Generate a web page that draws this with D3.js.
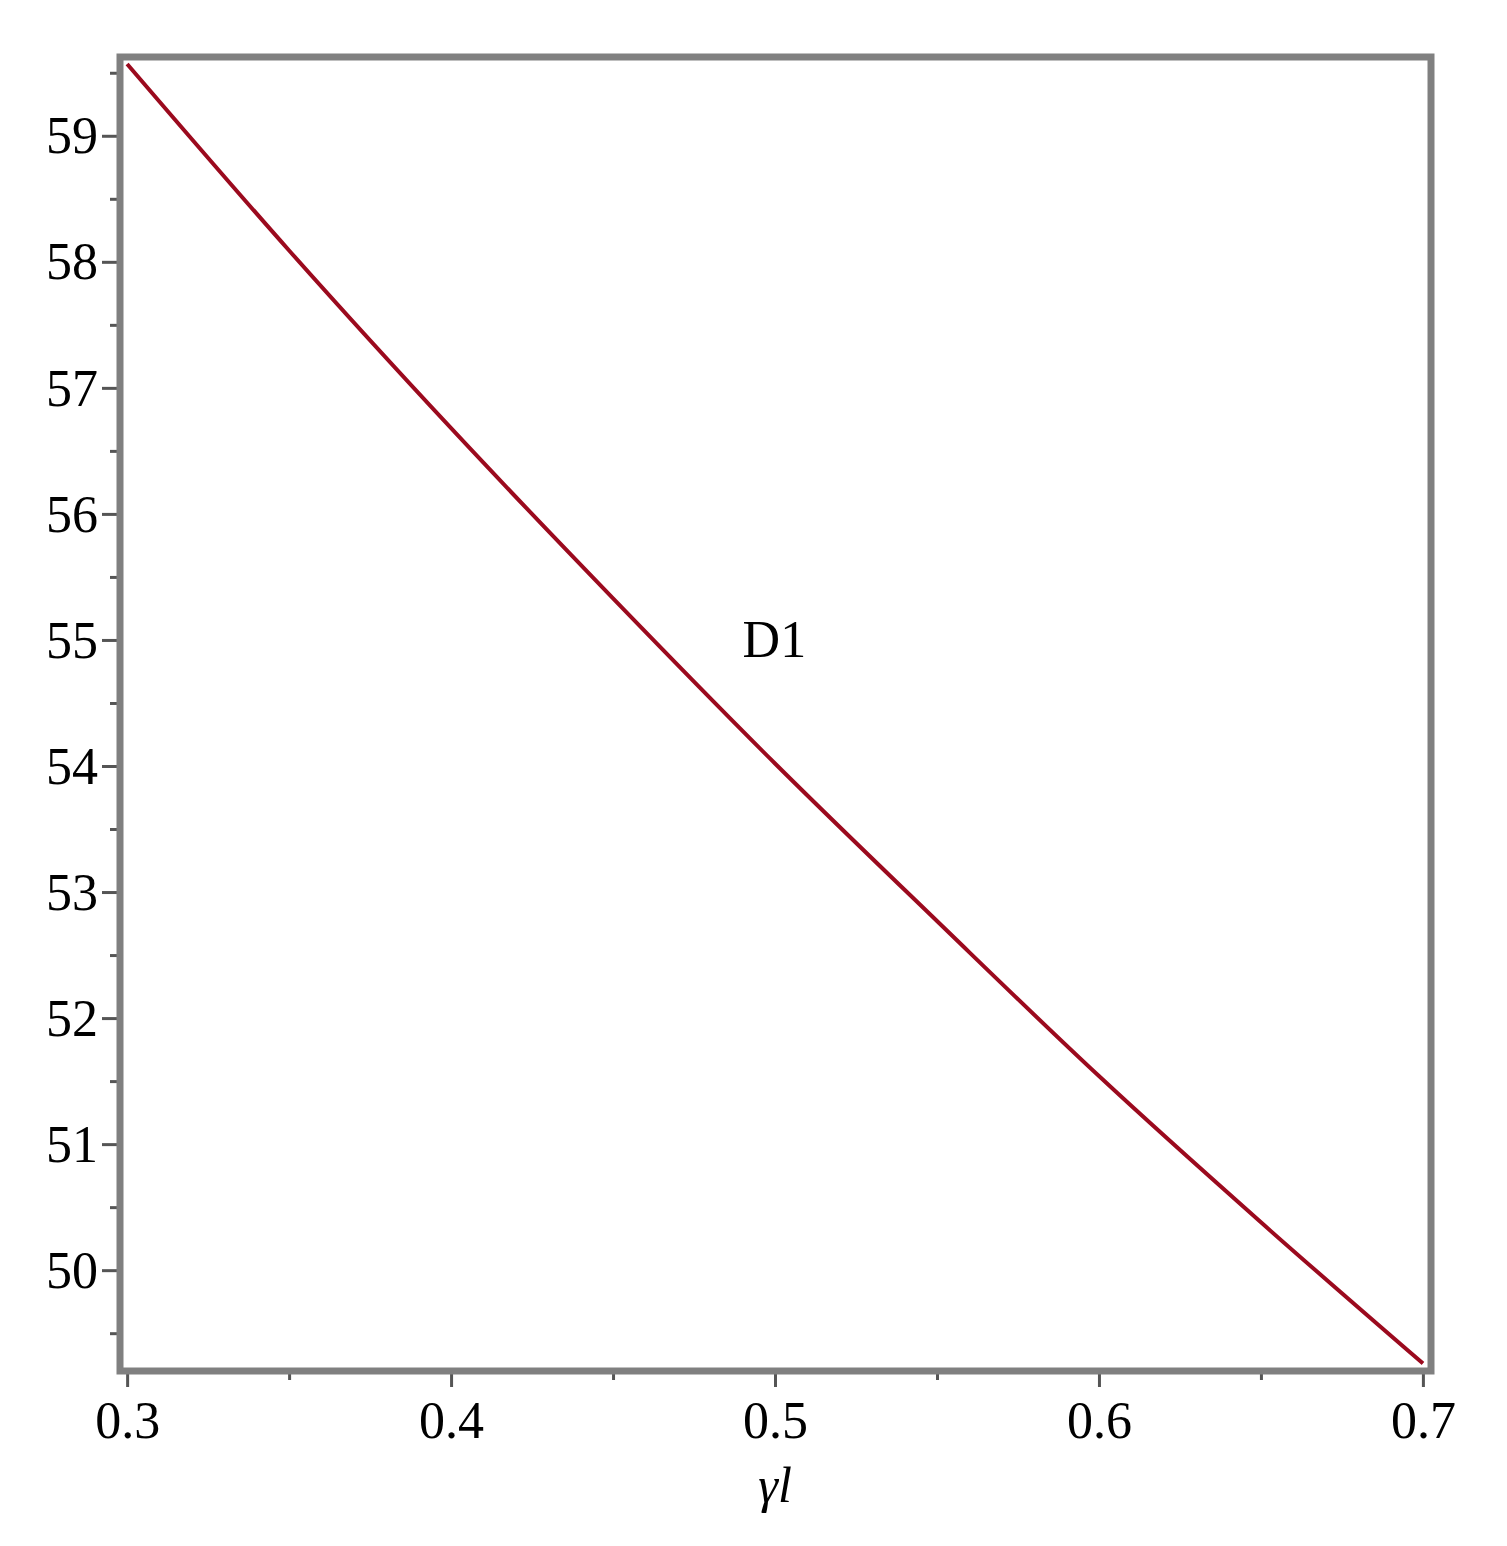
<!DOCTYPE html>
<html lang="en">
<head>
    <meta charset="UTF-8">
    <title>D1 vs gamma l</title>
    <style>
        html, body {
            margin: 0px;
            padding: 0px;
            background-color: white;
        }

        #vis {
            width: 1507px;
            height: 1546px;
        }

        text {
            font-family: 'Liberation Serif', 'Times New Roman', serif;
            fill: black;
        }

        .tick line {
            stroke: #555;
            stroke-width: 3px;
        }

        .tick text {
            font-size: 52px;
        }
    </style>
</head>
<body>
    <div id="vis"></div>
    <script src="https://d3js.org/d3.v7.min.js"></script>
    <script>

        // curve (gamma l -> value)
        var gammaL = [0.3, 0.35, 0.4, 0.45, 0.5, 0.55, 0.6, 0.65, 0.7];
        var d1Values = [59.57, 58.09, 56.68, 55.33, 54.02, 52.77, 51.54, 50.38, 49.26];

        // tick labels
        var xMajorTicks = [0.3, 0.4, 0.5, 0.6, 0.7];
        var xMinorTicks = [0.35, 0.45, 0.55, 0.65];
        var yMajorTicks = [50, 51, 52, 53, 54, 55, 56, 57, 58, 59];
        var yMinorTicks = [49.5, 50.5, 51.5, 52.5, 53.5, 54.5, 55.5, 56.5, 57.5, 58.5, 59.5];

        var curveLabel = "D1";

        var width = 1507;
        var height = 1546;

        var svg = d3.select("#vis")
            .append("svg")
            .attr("width", width)
            .attr("height", height);

        // plot box runs a little past the first and last tick, like maple does
        var x_scale = d3.scaleLinear()
            .domain([0.2978, 0.7025])
            .range([120, 1431]);

        var y_scale = d3.scaleLinear()
            .domain([49.2, 59.625])
            .range([1371, 57]);

        var data = gammaL.map(function(g, i) {
            return {x: g, y: d1Values[i]};
        });

        // minor ticks first so majors sit on top
        var x_minor = d3.axisBottom(x_scale)
            .tickValues(xMinorTicks)
            .tickSize(9)
            .tickFormat("");

        var x_axis = d3.axisBottom(x_scale)
            .tickValues(xMajorTicks)
            .tickSize(16)
            .tickPadding(14)
            .tickFormat(d3.format(".1f"));

        var y_minor = d3.axisLeft(y_scale)
            .tickValues(yMinorTicks)
            .tickSize(10)
            .tickFormat("");

        var y_axis = d3.axisLeft(y_scale)
            .tickValues(yMajorTicks)
            .tickSize(18)
            .tickPadding(4)
            .tickFormat(d3.format("d"));

        var bottom = y_scale.range()[0];
        var left = x_scale.range()[0];

        svg.append("g")
            .attr("transform", "translate(0," + bottom + ")")
            .call(x_minor);

        svg.append("g")
            .attr("class", "x axis")
            .attr("transform", "translate(0," + bottom + ")")
            .call(x_axis);

        svg.append("g")
            .attr("transform", "translate(" + left + ",0)")
            .call(y_minor);

        svg.append("g")
            .attr("class", "y axis")
            .attr("transform", "translate(" + left + ",0)")
            .call(y_axis);

        svg.selectAll(".domain").remove();

        svg.selectAll(".x.axis .tick text")
            .attr("dy", "0.71em");

        svg.selectAll(".y.axis .tick text")
            .attr("dy", "0.33em");

        // the curve
        var line = d3.line()
            .x(function(d) { return x_scale(d.x); })
            .y(function(d) { return y_scale(d.y); })
            .curve(d3.curveMonotoneX);

        svg.append("path")
            .datum(data)
            .attr("fill", "none")
            .attr("stroke", "#9b0a1e")
            .attr("stroke-width", 4)
            .attr("d", line);

        // frame around the plot
        svg.append("rect")
            .attr("x", x_scale.range()[0])
            .attr("y", y_scale.range()[1])
            .attr("width", x_scale.range()[1] - x_scale.range()[0])
            .attr("height", y_scale.range()[0] - y_scale.range()[1])
            .attr("fill", "none")
            .attr("stroke", "#808080")
            .attr("stroke-width", 7);

        // curve label
        svg.append("text")
            .attr("x", x_scale(0.49))
            .attr("y", y_scale(55))
            .attr("dy", "0.33em")
            .style("font-size", "52px")
            .text(curveLabel);

        // x axis title, gamma l in italics
        var xTitle = svg.append("text")
            .attr("x", x_scale(0.5))
            .attr("y", 1502)
            .attr("text-anchor", "middle")
            .style("font-size", "50px")
            .style("font-style", "italic");

        xTitle.append("tspan").text("γ");
        xTitle.append("tspan").text("l");

    </script>
</body>
</html>
